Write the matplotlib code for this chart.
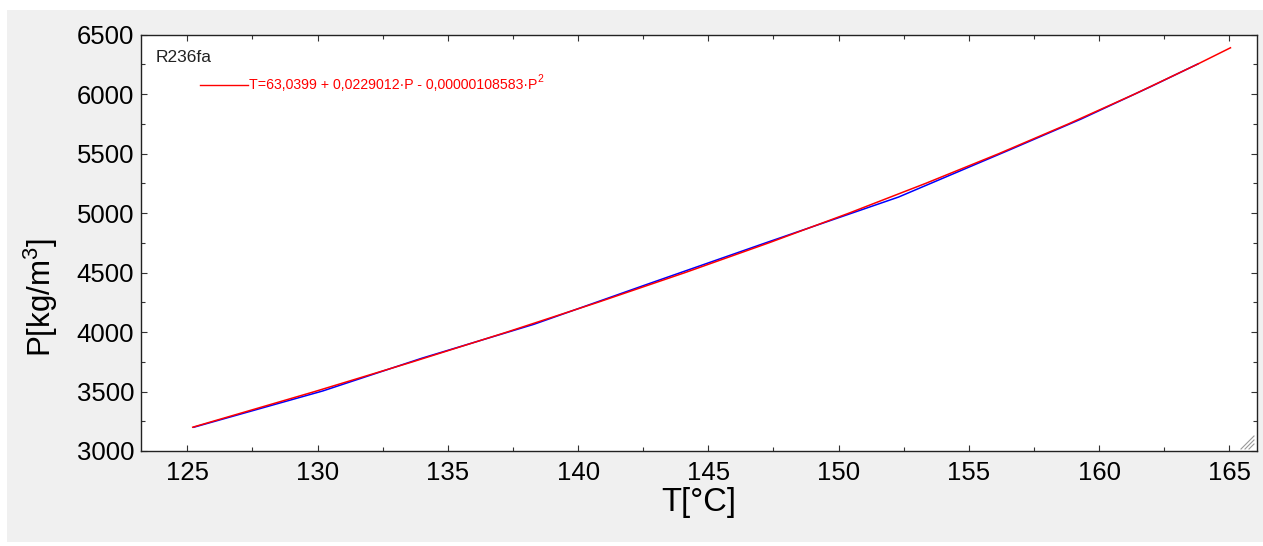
import matplotlib
matplotlib.use("Agg")
import matplotlib.pyplot as plt
from matplotlib.lines import Line2D
from matplotlib.patches import Rectangle
from matplotlib.ticker import MultipleLocator

plt.rcParams['font.family'] = ['Liberation Sans', 'DejaVu Sans']
plt.rcParams['mathtext.fontset'] = 'custom'
plt.rcParams['mathtext.rm'] = 'Liberation Sans'
plt.rcParams['mathtext.it'] = 'Liberation Sans'

# measured data (blue)
data_T = [125.25, 130.2, 134.0, 138.3, 142.5, 147.2, 152.3, 156.6, 159.3, 162.0, 163.8]
data_P = [3200, 3505, 3780, 4065, 4390, 4750, 5135, 5535, 5790, 6065, 6255]

# fitted curve (red) read as points
fit_T = [125.205, 129.893, 133.650, 137.272, 140.757, 144.107, 147.322, 150.400,
         153.342, 156.151, 158.822, 161.357, 163.758, 165.043]
fit_P = [3200, 3500, 3750, 4000, 4250, 4500, 4750, 5000,
         5250, 5500, 5750, 6000, 6250, 6390]

series_name = "R236fa"
fit_label = "T=63,0399 + 0,0229012·P - 0,00000108583·P"
fit_sup = "2"
xlabel = "T[°C]"
ylabel = "P[kg/m$\\mathregular{^3}$]"

W, H = 1263, 546
fig = plt.figure(figsize=(W / 100, H / 100), dpi=100, facecolor='white')
fig.patches.append(Rectangle((7 / W, 1 - 542 / H), (W - 7) / W, (542 - 10) / H,
                             transform=fig.transFigure, facecolor='#f0f0f0',
                             edgecolor='none', zorder=-10))

left, right, top, bottom = 141, 1256.7, 34.7, 451
aw = right - left
ah = bottom - top
ax = fig.add_axes([left / W, 1 - bottom / H, aw / W, ah / H])
ax.set_facecolor('white')

ax.plot(data_T, data_P, color='#0000ff', lw=1.1, zorder=3)
ax.plot(fit_T, fit_P, color='#ff0000', lw=1.1, zorder=4)

ax.set_xlim(123.22, 166.05)
ax.set_ylim(3000, 6500)
ax.xaxis.set_major_locator(MultipleLocator(5))
ax.xaxis.set_minor_locator(MultipleLocator(2.5))
ax.yaxis.set_major_locator(MultipleLocator(500))
ax.yaxis.set_minor_locator(MultipleLocator(250))

ax.tick_params(which='both', direction='in', top=True, right=True, width=0.8, color='#333333')
ax.tick_params(which='major', length=4.5)
ax.tick_params(which='minor', length=3)
ax.tick_params(axis='x', labelsize=18.5, pad=7)
ax.tick_params(axis='y', labelsize=18.5, pad=5)
for s in ax.spines.values():
    s.set_linewidth(1.0)
    s.set_color('#222222')

ax.set_xlabel(xlabel, fontsize=23.5, labelpad=2)
ax.set_ylabel(ylabel, fontsize=22.5)
ax.yaxis.set_label_coords((60 - left) / aw, (bottom - 298) / ah)

ax.text((156 - left) / aw, (bottom - 58) / ah, series_name, transform=ax.transAxes,
        fontsize=12.5, color='#222222', ha='left', va='center')
ax.add_line(Line2D([(200 - left) / aw, (248 - left) / aw], [(bottom - 85) / ah] * 2,
                   transform=ax.transAxes, color='#ff0000', lw=1.0))
t1 = ax.text((249 - left) / aw, (bottom - 85) / ah, fit_label, transform=ax.transAxes,
             fontsize=10.2, color='#ff0000', ha='left', va='center')
ax.annotate(fit_sup, xy=(1.0, 0.55), xycoords=t1, xytext=(0, 0), textcoords='offset points',
            fontsize=7.5, color='#ff0000', ha='left', va='bottom')

# resize grip
for i in range(3):
    off = 4 * i
    fig.add_artist(Line2D([(1241 + off) / W, (1254) / W],
                          [1 - 449 / H, 1 - (449 - 13 + off) / H],
                          transform=fig.transFigure, color='#999999', lw=0.8))

fig.savefig('out.png', dpi=100, facecolor='white')
